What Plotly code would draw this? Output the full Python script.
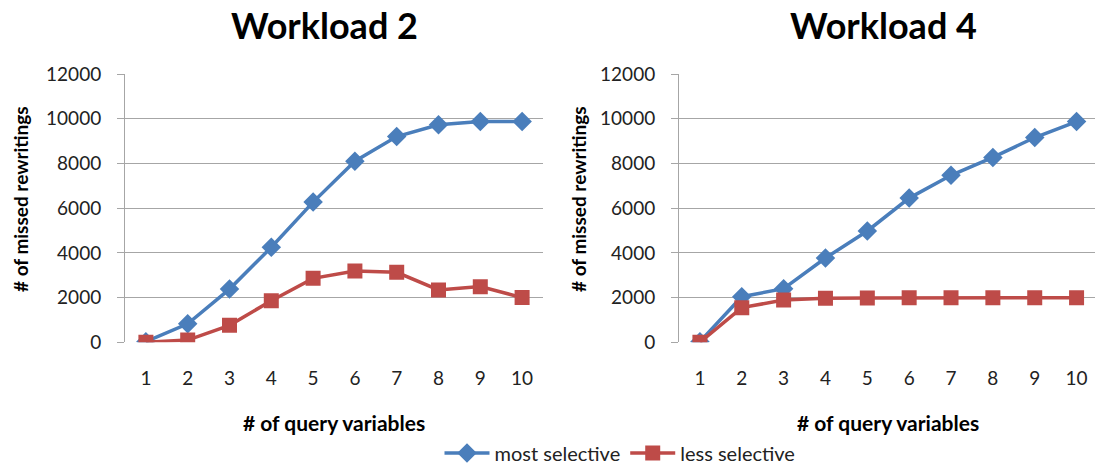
import plotly.graph_objects as go

categories = [1, 2, 3, 4, 5, 6, 7, 8, 9, 10]
tick_labels = ["1", "2", "3", "4", "5", "6", "7", "8", "9", "10"]
w2_most = [30, 830, 2380, 4250, 6270, 8100, 9200, 9730, 9870, 9880]
w2_less = [0, 100, 760, 1860, 2860, 3190, 3130, 2340, 2490, 2000]
w4_most = [30, 2040, 2400, 3770, 4980, 6450, 7470, 8270, 9160, 9870]
w4_less = [0, 1550, 1890, 1970, 1980, 1990, 1990, 1990, 1990, 1990]
y_ticks = [0, 2000, 4000, 6000, 8000, 10000, 12000]
y_tick_labels = ["0", "2000", "4000", "6000", "8000", "10000", "12000"]

BLUE = "#4A7EBB"
RED = "#BE4B48"
FONT = "Lato"
W, H = 1095, 465

fig = go.Figure()

def add_series(y, name, color, symbol, size, xa, ya, show):
    fig.add_trace(go.Scatter(
        x=categories, y=y, name=name, mode="lines+markers",
        line=dict(color=color, width=3.5),
        marker=dict(symbol=symbol, size=size, color=color),
        xaxis=xa, yaxis=ya, showlegend=show, legendgroup=name,
    ))

add_series(w2_most, "most selective", BLUE, "diamond", 15, "x", "y", True)
add_series(w2_less, "less selective", RED, "square", 15, "x", "y", True)
add_series(w4_most, "most selective", BLUE, "diamond", 15, "x2", "y2", False)
add_series(w4_less, "less selective", RED, "square", 15, "x2", "y2", False)

ydom = [(H - 342.3) / H, (H - 74) / H]
grid = "#A6A6A6"

xcommon = dict(tickmode="array", tickvals=categories, ticktext=tick_labels,
               showgrid=False, zeroline=False, showline=False, ticks="",
               tickfont=dict(family=FONT, size=19, color="#222"), ticklabelstandoff=23,
               automargin=False)
ycommon = dict(range=[0, 12000], tickmode="array", tickvals=y_ticks, ticktext=y_tick_labels,
               showgrid=True, gridcolor=grid, gridwidth=1,
               zeroline=False, showline=True, linecolor=grid, linewidth=1,
               ticks="outside", ticklen=7, tickcolor=grid,
               tickfont=dict(family=FONT, size=19, color="#222"), ticklabelstandoff=12,
               automargin=False)

fig.update_layout(
    width=W, height=H, margin=dict(l=0, r=0, t=0, b=0, autoexpand=False),
    paper_bgcolor="white", plot_bgcolor="white",
    xaxis=dict(domain=[125 / W, 543 / W], range=[0.5, 10.5], anchor="y", **xcommon),
    yaxis=dict(domain=ydom, anchor="x", **ycommon),
    xaxis2=dict(domain=[679 / W, 1.0], range=[0.5, 0.5 + 416 / 41.85], anchor="y2", **xcommon),
    yaxis2=dict(domain=ydom, anchor="x2", **ycommon),
    legend=dict(orientation="h", x=620 / W, xanchor="center", y=(H - 453) / H, yanchor="middle",
                font=dict(family=FONT, size=20, color="#222"), itemwidth=45, tracegroupgap=0),
    showlegend=True,
)

def ann(text, x, y, size, bold=True, angle=0):
    fig.add_annotation(text=f"<b>{text}</b>" if bold else text, x=x / W, y=(H - y) / H,
                       xref="paper", yref="paper", showarrow=False, textangle=angle,
                       font=dict(family=FONT, size=size, color="#000"),
                       xanchor="center", yanchor="middle")

ann("Workload 2", 324, 25, 36)
ann("Workload 4", 883, 25, 36)
ann("# of query variables", 334, 422, 21)
ann("# of query variables", 888, 422, 21)
ann("# of missed rewritings", 20, 199, 19, angle=-90)
ann("# of missed rewritings", 578, 199, 19, angle=-90)

fig.write_html("out.html")
